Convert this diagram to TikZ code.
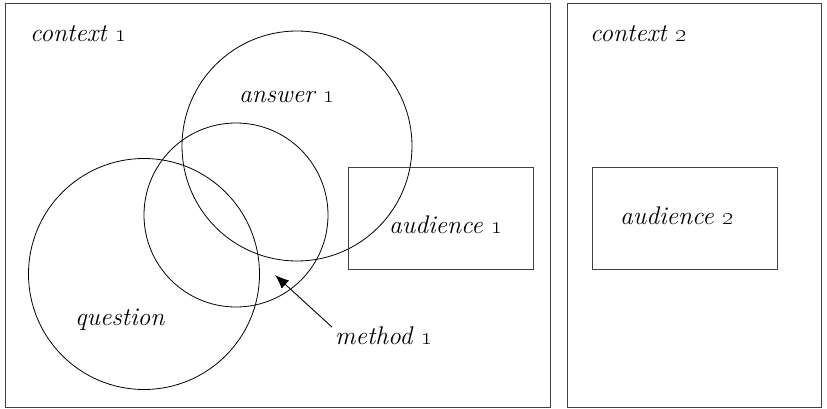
\documentclass[tikz,border=0pt]{standalone}
\usepackage{tikz}
\usetikzlibrary{arrows.meta,positioning}

\begin{document}
\begin{tikzpicture}[x=1pt, y=-1pt,
    ctx/.style={draw=black!75, line width=1pt, inner sep=0pt, minimum height=403pt},
    blob/.style={draw, circle, line width=0.8pt, inner sep=0pt},
    aud/.style={draw=black!75, line width=1pt, inner sep=0pt, minimum width=185pt, minimum height=102pt},
    lbl/.style={font=\fontsize{25.5}{30}\selectfont\itshape, inner sep=0pt, anchor=base west}
  ]
  \useasboundingbox (0,0) rectangle (827,409);
  % the two contexts
  \node[ctx, minimum width=545pt] (ctx1) at (277.5,205.5) {};
  \node[ctx, minimum width=254pt] (ctx2) at (694,205.5) {};
  % overlapping circles
  \node[blob, minimum size=231pt] (qst) at (144,274) {};
  \node[blob, minimum size=184pt] (mid) at (236,215) {};
  \node[blob, minimum size=230pt] (ans) at (297,146) {};
  % audiences
  \node[aud] (aud1) at (440.5,218) {};
  \node[aud] (aud2) at (685,218) {};
  % labels
  \node[lbl] (ctx1lbl) at (30,42) {context \oldstylenums{1}};
  \node[lbl] (ctx2lbl) at (590,42) {context \oldstylenums{2}};
  \node[lbl] (anslbl) at (239,103) {answer \oldstylenums{1}};
  \node[lbl] (qstlbl) at (75,325) {question};
  \node[lbl] (aud1lbl) at (389,233) {audience \oldstylenums{1}};
  \node[lbl] (aud2lbl) at (620,224) {audience \oldstylenums{2}};
  \node[lbl] (mthlbl) at (335,344) {method \oldstylenums{1}};
  \coordinate (tip) at (275,275);
  \draw[line width=0.9pt, -{Latex[length=14pt,width=11pt]}] ([xshift=-3pt,yshift=-1pt]mthlbl.north west) -- (tip);
\end{tikzpicture}
\end{document}
